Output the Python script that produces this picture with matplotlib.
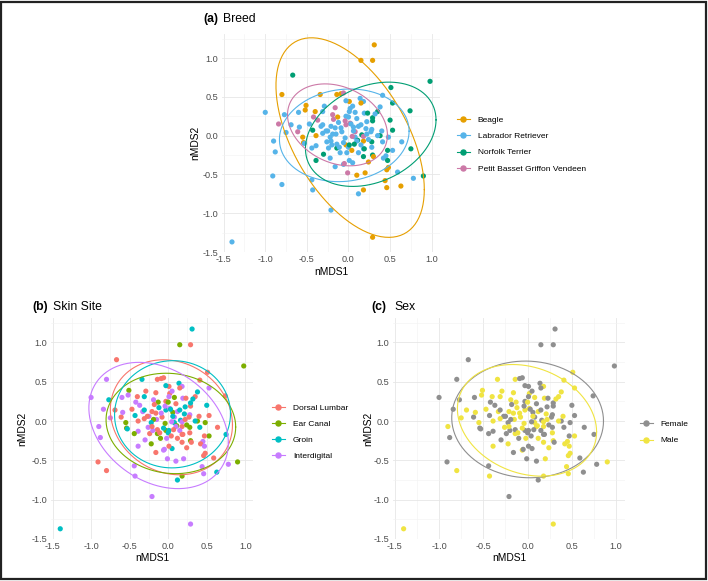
import numpy as np
import matplotlib
matplotlib.use("Agg")
import matplotlib.pyplot as plt
from matplotlib.lines import Line2D
from matplotlib.patches import Rectangle
from matplotlib.ticker import FixedLocator

plt.rcParams['font.family'] = ['Liberation Sans', 'DejaVu Sans']

# each point: (nMDS1, nMDS2, breed code, sex code), grouped by skin site
dorsal_lumbar = [
    (0.29, 0.97, 'B', 'F'), (-0.67, 0.78, 'N', 'F'), (-0.91, -0.52, 'L', 'F'), (-0.80, -0.63, 'L', 'M'),
    (-0.69, 0.14, 'L', 'M'), (-0.61, 0.05, 'P', 'F'), (-0.47, 0.15, 'L', 'M'), (-0.40, 0.31, 'B', 'M'),
    (-0.29, 0.38, 'L', 'M'), (-0.16, 0.36, 'P', 'M'), (-0.14, 0.53, 'B', 'M'), (-0.09, 0.54, 'B', 'F'),
    (-0.06, 0.55, 'P', 'F'), (0.01, 0.44, 'B', 'F'), (0.02, 0.35, 'L', 'M'), (-0.03, 0.25, 'L', 'F'),
    (-0.18, 0.21, 'P', 'F'), (-0.21, 0.12, 'L', 'M'), (-0.16, 0.10, 'L', 'M'), (-0.27, 0.06, 'L', 'F'),
    (-0.39, 0.00, 'B', 'M'), (-0.31, 0.03, 'L', 'M'), (-0.21, -0.07, 'L', 'M'), (-0.14, -0.11, 'L', 'F'),
    (-0.11, -0.15, 'L', 'M'), (0.04, -0.19, 'B', 'F'), (0.07, -0.11, 'N', 'F'), (0.18, -0.07, 'B', 'M'),
    (0.18, -0.17, 'L', 'F'), (0.19, -0.17, 'N', 'F'), (0.28, -0.15, 'L', 'M'), (0.30, -0.27, 'B', 'F'),
    (0.24, -0.34, 'B', 'M'), (0.18, -0.27, 'N', 'M'), (0.42, -0.29, 'L', 'M'), (0.47, -0.19, 'N', 'F'),
    (0.48, -0.41, 'B', 'M'), (0.46, -0.44, 'B', 'M'), (0.59, -0.47, 'L', 'F'), (0.64, -0.08, 'L', 'F'),
    (0.53, 0.07, 'N', 'F'), (0.40, 0.06, 'L', 'M'), (0.29, 0.19, 'N', 'F'), (0.27, 0.05, 'L', 'F'),
    (0.22, 0.02, 'L', 'M'), (0.35, 0.31, 'N', 'M'), (0.41, 0.52, 'L', 'M'), (0.51, 0.62, 'N', 'M'),
    (0.23, 0.29, 'N', 'F'), (0.15, 0.42, 'B', 'F'), (-0.16, -0.40, 'L', 'F'), (0.01, -0.32, 'L', 'F'),
    (0.74, 0.32, 'N', 'F'), (-0.08, 0.05, 'L', 'M'), (0.10, 0.22, 'L', 'F'), (-0.24, -0.16, 'L', 'F'),
    (0.12, -0.22, 'L', 'M'),
]
ear_canal = [
    (0.15, 0.97, 'B', 'F'), (0.98, 0.70, 'N', 'F'), (-0.51, 0.39, 'B', 'M'), (-0.55, -0.02, 'B', 'M'),
    (-0.44, -0.16, 'L', 'F'), (-0.22, -0.29, 'L', 'M'), (-0.14, -0.16, 'N', 'M'), (-0.13, 0.24, 'B', 'M'),
    (-0.04, -0.03, 'L', 'M'), (0.00, 0.24, 'L', 'M'), (0.06, 0.11, 'L', 'F'), (-0.03, -0.12, 'B', 'F'),
    (0.11, -0.06, 'N', 'M'), (0.28, -0.08, 'N', 'F'), (0.29, -0.25, 'N', 'M'), (0.38, 0.00, 'N', 'F'),
    (0.48, -0.02, 'L', 'F'), (0.53, -0.19, 'L', 'M'), (0.90, -0.52, 'N', 'M'), (0.18, -0.70, 'B', 'M'),
    (-0.54, -0.09, 'B', 'F'), (-0.19, 0.02, 'L', 'F'), (0.08, 0.30, 'L', 'M'), (0.24, -0.05, 'L', 'F'),
    (-0.10, -0.22, 'L', 'F'),
]
groin = [
    (-1.40, -1.37, 'L', 'M'), (0.31, 1.17, 'B', 'F'), (-0.34, 0.53, 'B', 'M'), (-0.31, 0.31, 'L', 'M'),
    (-0.43, 0.07, 'N', 'F'), (-0.53, -0.10, 'L', 'F'), (-0.31, 0.14, 'L', 'F'), (-0.03, 0.45, 'L', 'F'),
    (-0.03, 0.14, 'P', 'M'), (0.03, 0.15, 'L', 'F'), (0.06, 0.06, 'L', 'M'), (0.15, 0.14, 'L', 'F'),
    (0.16, 0.01, 'N', 'F'), (0.14, 0.48, 'L', 'F'), (0.21, 0.09, 'L', 'M'), (0.29, 0.23, 'N', 'F'),
    (0.32, 0.28, 'L', 'M'), (0.38, 0.37, 'L', 'M'), (0.41, -0.08, 'L', 'F'), (0.01, -0.12, 'N', 'F'),
    (-0.06, -0.09, 'L', 'M'), (0.05, -0.35, 'L', 'F'), (0.00, -0.15, 'L', 'F'), (-0.77, 0.27, 'L', 'F'),
    (0.63, -0.65, 'B', 'F'), (0.75, -0.17, 'N', 'F'), (0.12, -0.75, 'L', 'F'), (0.50, 0.20, 'N', 'F'),
    (0.35, 0.00, 'L', 'M'), (-0.12, 0.17, 'L', 'M'), (0.22, 0.18, 'L', 'F'), (0.08, -0.02, 'L', 'M'),
    (-0.22, -0.02, 'L', 'F'),
]
interdigital = [
    (-1.00, 0.30, 'L', 'F'), (-0.80, 0.53, 'B', 'F'), (-0.84, 0.15, 'P', 'F'), (-0.90, -0.07, 'L', 'M'),
    (-0.88, -0.21, 'L', 'F'), (-0.44, -0.57, 'L', 'F'), (-0.43, -0.70, 'L', 'M'), (-0.21, -0.96, 'L', 'F'),
    (0.29, -1.31, 'B', 'M'), (0.78, -0.55, 'L', 'F'), (-0.75, 0.04, 'L', 'M'), (-0.59, 0.11, 'L', 'M'),
    (-0.52, 0.33, 'B', 'M'), (-0.37, 0.20, 'P', 'F'), (-0.42, 0.24, 'P', 'F'), (-0.39, -0.13, 'L', 'F'),
    (-0.39, -0.32, 'N', 'M'), (-0.30, -0.24, 'N', 'F'), (-0.26, -0.08, 'L', 'M'), (-0.25, 0.06, 'L', 'F'),
    (-0.19, 0.27, 'P', 'M'), (-0.04, 0.19, 'P', 'F'), (0.01, 0.31, 'L', 'F'), (-0.09, 0.10, 'L', 'M'),
    (-0.06, -0.37, 'L', 'M'), (-0.01, -0.48, 'P', 'F'), (0.10, -0.51, 'B', 'F'), (0.20, -0.48, 'B', 'M'),
    (0.15, -0.12, 'L', 'F'), (0.18, -0.01, 'P', 'M'), (0.10, -0.07, 'L', 'M'), (0.19, 0.29, 'L', 'M'),
    (0.18, 0.44, 'L', 'M'), (0.53, 0.42, 'N', 'M'), (0.45, -0.26, 'L', 'M'), (0.47, -0.32, 'N', 'M'),
    (0.44, -0.58, 'B', 'M'), (0.46, -0.67, 'B', 'M'), (0.02, 0.16, 'P', 'M'), (0.045, -0.01, 'P', 'F'),
    (-0.05, -0.36, 'P', 'F'), (-0.60, 0.30, 'L', 'F'), (-0.33, 0.12, 'L', 'M'), (0.28, 0.08, 'L', 'F'),
    (0.05, 0.38, 'L', 'F'), (-0.02, -0.22, 'L', 'M'), (-0.15, 0.02, 'L', 'M'), (0.08, 0.05, 'P', 'F'),
    (-0.20, -0.12, 'L', 'F'), (0.12, 0.12, 'L', 'M'),
]

breed_names = {'B': 'Beagle', 'L': 'Labrador Retriever', 'N': 'Norfolk Terrier',
               'P': 'Petit Basset Griffon Vendeen'}
sex_names = {'F': 'Female', 'M': 'Male'}
site_groups = [('Dorsal Lumbar', dorsal_lumbar), ('Ear Canal', ear_canal),
               ('Groin', groin), ('Interdigital', interdigital)]

breed_levels = ['Beagle', 'Labrador Retriever', 'Norfolk Terrier', 'Petit Basset Griffon Vendeen']
breed_cols = ['#E69F00', '#56B4E9', '#009E73', '#CC79A7']
site_levels = ['Dorsal Lumbar', 'Ear Canal', 'Groin', 'Interdigital']
site_cols = ['#F8766D', '#7CAE00', '#00BFC4', '#C77CFF']
sex_levels = ['Female', 'Male']
sex_cols = ['#8F8F8F', '#F0E442']

x, y, breed, site, sex = [], [], [], [], []
for s, pts in site_groups:
    for p in pts:
        x.append(p[0]); y.append(p[1])
        breed.append(breed_names[p[2]]); site.append(s); sex.append(sex_names[p[3]])
x = np.array(x); y = np.array(y)
# mix the drawing order like a data frame in sample order
order = np.argsort((np.arange(len(x)) * 37) % len(x))
x = x[order]; y = y[order]
breed = [breed[i] for i in order]; site = [site[i] for i in order]; sex = [sex[i] for i in order]


def ellipse(px, py, level=0.95, nu=5):
    # like ggplot2 stat_ellipse (type "t", cov.trob)
    xy = np.column_stack([px, py])
    n = len(xy)
    loc = xy.mean(0)
    w = np.ones(n)
    for _ in range(300):
        d = xy - loc
        cov = (w[:, None] * d).T @ d / w.sum()
        q = np.einsum('ij,jk,ik->i', d, np.linalg.inv(cov), d)
        w_new = (nu + 2) / (nu + q)
        loc = (w_new[:, None] * xy).sum(0) / w_new.sum()
        done = np.max(np.abs(w_new - w)) < 1e-9
        w = w_new
        if done:
            break
    d = xy - loc
    cov = (w[:, None] * d).T @ d / n
    dfd = n - 1
    f = dfd / 2 * ((1 - level) ** (-2 / dfd) - 1)
    r = np.sqrt(2 * f)
    t = np.linspace(0, 2 * np.pi, 100)
    circ = np.column_stack([np.cos(t), np.sin(t)])
    e = loc + r * circ @ np.linalg.cholesky(cov).T
    return e[:, 0], e[:, 1]


W, H = 708, 581
fig = plt.figure(figsize=(W / 100, H / 100), dpi=100)


def box(l, t, r, b):
    return [l / W, 1 - b / H, (r - l) / W, (b - t) / H]


def ftext(px, py, s, **kw):
    fig.text(px / W, 1 - py / H, s, **kw)


def panel(rect, groups, levels, cols, tag, title, tag_x, title_x, title_y,
          ylab_x, xlab_y, leg_x, leg_y):
    ax = fig.add_axes(box(*rect))
    cmap = dict(zip(levels, cols))
    ax.scatter(x, y, s=14, c=[cmap[g] for g in groups], linewidths=0, zorder=3)
    for lev, col in zip(levels, cols):
        m = np.array([g == lev for g in groups])
        ex, ey = ellipse(x[m], y[m])
        ax.plot(ex, ey, color=col, lw=0.8, zorder=4)
    ax.set_xlim(-1.52, 1.10)
    ax.set_ylim(-1.50, 1.31)
    ticks = [-1.5, -1.0, -0.5, 0.0, 0.5, 1.0]
    labs = ['-1.5', '-1.0', '-0.5', '0.0', '0.5', '1.0']
    ax.set_xticks(ticks); ax.set_xticklabels(labs)
    ax.set_yticks(ticks); ax.set_yticklabels(labs)
    minors = [-1.25, -0.75, -0.25, 0.25, 0.75, 1.25]
    ax.xaxis.set_minor_locator(FixedLocator(minors))
    ax.yaxis.set_minor_locator(FixedLocator(minors))
    ax.grid(which='major', color='#E6E6E6', lw=0.6)
    ax.grid(which='minor', color='#F2F2F2', lw=0.4)
    ax.set_axisbelow(True)
    ax.tick_params(which='both', length=0, labelsize=6.6, labelcolor='#4D4D4D', pad=2.5)
    for sp in ax.spines.values():
        sp.set_visible(False)
    ftext(tag_x, title_y, tag, fontsize=8.8, fontweight='bold', va='center')
    ftext(title_x, title_y, title, fontsize=8.8, va='center')
    ftext((rect[0] + rect[2]) / 2, xlab_y, 'nMDS1', fontsize=7.4, ha='center', va='center')
    ftext(ylab_x, (rect[1] + rect[3]) / 2, 'nMDS2', fontsize=7.4, ha='center', va='center',
          rotation=90)
    handles = [Line2D([0], [0], color=c, lw=0.8, marker='o', markersize=3.6) for c in cols]
    fig.legend(handles, levels, loc='center left', bbox_to_anchor=(leg_x / W, 1 - leg_y / H),
               frameon=False, fontsize=6.0, handlelength=1.5, handletextpad=1.0,
               labelspacing=1.0, borderpad=0, borderaxespad=0)
    return ax


panel((222, 34, 440, 252), breed, breed_levels, breed_cols, '(a)', 'Breed',
      203, 223, 19, 195, 272, 457, 144.5)
panel((51, 318, 253, 539), site, site_levels, site_cols, '(b)', 'Skin Site',
      32, 53, 307, 22, 558, 272, 432)
panel((393, 318, 625, 539), sex, sex_levels, sex_cols, '(c)', 'Sex',
      371, 394, 307, 368, 558, 640, 432.5)

fig.patches.append(Rectangle((0.002, 0.003), 0.995, 0.993, transform=fig.transFigure,
                             fill=False, edgecolor='#222222', lw=1.6))

plt.savefig('out.png', dpi=100)
